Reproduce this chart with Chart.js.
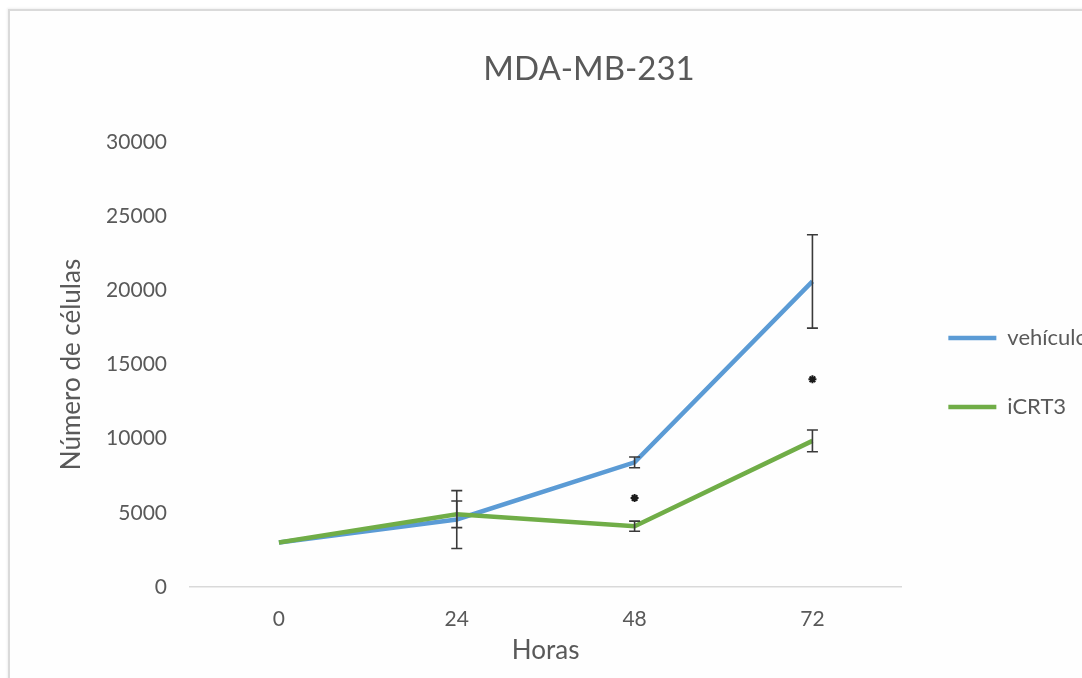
<!DOCTYPE html>
<html>
<head>
<meta charset="utf-8">
<script src="https://cdn.jsdelivr.net/npm/chart.js@4.4.1/dist/chart.umd.min.js"></script>
<style>
  html, body { margin: 0; padding: 0; background: #ffffff; overflow: hidden; }
  body { width: 1082px; height: 678px; position: relative; }
  #frame {
    position: absolute; left: 8px; top: 9px; width: 1200px; height: 800px;
    border-left: 2px solid #dadada; border-top: 2px solid #dadada;
    box-shadow: -1px -1px 2px rgba(0,0,0,0.06);
    background: #fefefe;
  }
  #chart { position: absolute; left: 0; top: 0; }
</style>
</head>
<body>
<div id="frame"></div>
<canvas id="chart" width="1098" height="678"></canvas>
<script>
// Cell counts (mean) per time point, with standard error per point
const hours = ['0', '24', '48', '72'];
const vehiculo = [3000, 4550, 8400, 20600];
const vehiculoErr = [0, 1950, 360, 3150];
const icrt3 = [3000, 4900, 4100, 9850];
const icrt3Err = [0, 900, 340, 730];
// Significance markers (*) placed above the compared points
const significance = [null, null, 6000, 14000];
const yTicks = [0, 5000, 10000, 15000, 20000, 25000, 30000];

const textGrey = '#595959';
const fontFamily = 'Lato, "Open Sans", "Noto Sans", sans-serif';

// Draws vertical error bars with caps for each line dataset that carries an `errors` array
const errorBars = {
  id: 'errorBars',
  afterDatasetsDraw(chart) {
    const { ctx, scales: { x, y } } = chart;
    ctx.save();
    ctx.strokeStyle = '#3a3a3a';
    ctx.lineWidth = 1.6;
    chart.data.datasets.forEach((ds) => {
      if (!ds.errors) return;
      ds.data.forEach((v, i) => {
        const e = ds.errors[i];
        if (v == null || !e) return;
        const px = x.getPixelForValue(i);
        const top = y.getPixelForValue(v + e);
        const bot = y.getPixelForValue(v - e);
        const cap = 5.5;
        ctx.beginPath();
        ctx.moveTo(px, top); ctx.lineTo(px, bot);
        ctx.moveTo(px - cap, top); ctx.lineTo(px + cap, top);
        ctx.moveTo(px - cap, bot); ctx.lineTo(px + cap, bot);
        ctx.stroke();
      });
    });
    ctx.restore();
  }
};

new Chart(document.getElementById('chart'), {
  type: 'line',
  data: {
    labels: hours,
    datasets: [
      {
        label: 'vehículo',
        data: vehiculo,
        errors: vehiculoErr,
        borderColor: '#5B9BD5',
        backgroundColor: '#5B9BD5',
        borderWidth: 4.5,
        pointRadius: 0,
        tension: 0,
        order: 2
      },
      {
        label: 'iCRT3',
        data: icrt3,
        errors: icrt3Err,
        borderColor: '#70AD47',
        backgroundColor: '#70AD47',
        borderWidth: 4.5,
        pointRadius: 0,
        tension: 0,
        order: 1
      },
      {
        label: '*',
        data: significance,
        showLine: false,
        pointStyle: 'star',
        pointRadius: 4,
        pointBorderWidth: 2,
        pointBorderColor: '#1a1a1a',
        pointBackgroundColor: '#1a1a1a',
        order: 0
      }
    ]
  },
  options: {
    responsive: false,
    animation: false,
    events: [],
    layout: { padding: { left: 80, top: 0, right: 0, bottom: 15 } },
    plugins: {
      tooltip: { enabled: false },
      title: {
        display: true,
        text: 'MDA-MB-231',
        color: textGrey,
        font: { family: fontFamily, size: 33, weight: 'normal' },
        padding: { top: 50, bottom: 52.4 }
      },
      legend: {
        display: true,
        position: 'right',
        align: 'center',
        fullSize: false,
        title: { display: true, text: '', font: { size: 10 }, padding: 2 },
        labels: {
          usePointStyle: true,
          pointStyle: 'line',
          pointStyleWidth: 48,
          padding: 47,
          color: textGrey,
          font: { family: fontFamily, size: 22 },
          filter: (item) => item.datasetIndex < 2,
          sort: (a, b) => a.datasetIndex - b.datasetIndex
        }
      }
    },
    scales: {
      x: {
        offset: true,
        afterFit: (scale) => { scale.height = 76; },
        grid: { display: false, drawTicks: false },
        border: { display: true, color: '#d9d9d9', width: 1.5 },
        ticks: {
          color: textGrey,
          padding: 19.4,
          font: { family: fontFamily, size: 21 }
        },
        title: {
          display: true,
          text: 'Horas',
          color: textGrey,
          font: { family: fontFamily, size: 26 },
          padding: { top: 2, bottom: -3 }
        }
      },
      y: {
        min: 0,
        max: 30000,
        afterBuildTicks: (scale) => { scale.ticks = yTicks.map((v) => ({ value: v })); },
        afterFit: (scale) => { scale.width = 110; },
        grid: { display: false, drawTicks: false },
        border: { display: false },
        ticks: {
          color: textGrey,
          padding: 23,
          font: { family: fontFamily, size: 21 },
          callback: (v) => String(v)
        },
        title: {
          display: true,
          text: 'Número de células',
          color: textGrey,
          font: { family: fontFamily, size: 26 },
          padding: { top: -23.6, bottom: 0 }
        }
      }
    }
  },
  plugins: [errorBars]
});
</script>
</body>
</html>
